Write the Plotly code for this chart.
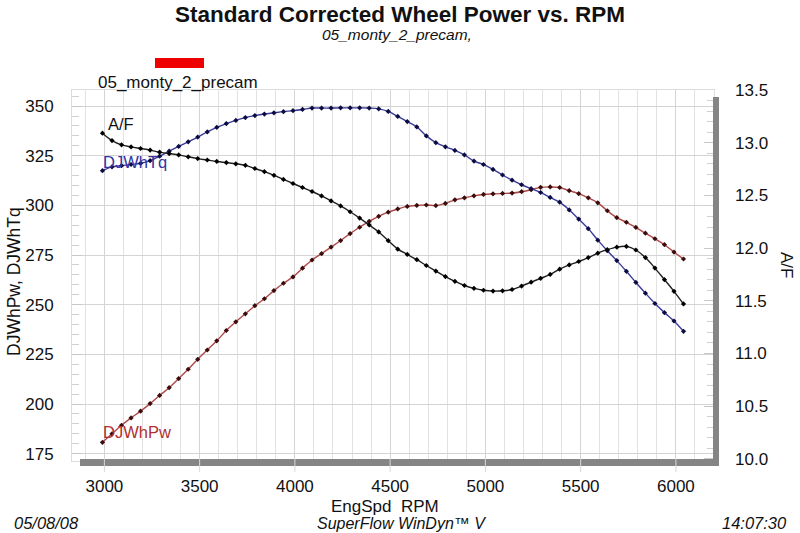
import plotly.graph_objects as go

rpm = [2990, 3040, 3090, 3140, 3190, 3240, 3290, 3340, 3390, 3440,
       3490, 3540, 3590, 3640, 3690, 3740, 3790, 3840, 3890, 3940,
       3990, 4040, 4090, 4140, 4190, 4240, 4290, 4340, 4390, 4440,
       4490, 4540, 4590, 4640, 4690, 4740, 4790, 4840, 4890, 4940,
       4990, 5040, 5090, 5140, 5190, 5240, 5290, 5340, 5390, 5440,
       5490, 5540, 5590, 5640, 5690, 5740, 5790, 5840, 5890, 5940,
       5990, 6040]

torque = [317.5, 319.4, 320.0, 320.6, 321.2, 322.5, 324.8, 327.3, 329.7, 332.0,
          334.4, 337.0, 339.3, 341.2, 342.8, 344.2, 345.2, 346.0, 346.6, 347.2,
          347.7, 348.3, 349.0, 349.0, 349.0, 349.1, 349.1, 349.1, 349.0, 348.6,
          347.3, 344.8, 342.2, 339.5, 335.0, 331.6, 329.5, 327.7, 325.4, 322.3,
          320.6, 318.1, 315.3, 312.7, 310.4, 308.4, 306.5, 304.0, 301.6, 297.7,
          293.1, 288.3, 282.5, 277.2, 272.2, 266.8, 261.2, 255.8, 250.6, 246.0,
          241.8, 236.6]

power = [180.7, 185.0, 189.3, 193.0, 196.4, 200.2, 204.3, 208.2, 212.8, 217.5,
         222.5, 227.2, 231.8, 237.0, 241.4, 245.4, 249.5, 253.0, 257.1, 260.8,
         264.0, 268.4, 272.5, 275.7, 279.0, 282.3, 285.8, 289.0, 292.0, 294.5,
         296.6, 298.2, 299.5, 300.0, 300.2, 299.9, 301.0, 302.8, 303.8, 304.8,
         305.5, 305.8, 306.0, 306.2, 306.9, 307.9, 309.1, 309.3, 309.0, 307.4,
         305.9, 303.8, 301.3, 297.3, 293.8, 291.5, 288.9, 286.0, 283.2, 280.2,
         276.5, 273.0]

afr = [13.09, 13.02, 12.98, 12.96, 12.945, 12.93, 12.91, 12.897, 12.884, 12.866,
       12.849, 12.836, 12.822, 12.811, 12.80, 12.785, 12.755, 12.725, 12.69, 12.652,
       12.613, 12.575, 12.537, 12.495, 12.448, 12.40, 12.345, 12.285, 12.22, 12.153,
       12.07, 11.99, 11.94, 11.89, 11.835, 11.782, 11.73, 11.685, 11.645, 11.618,
       11.60, 11.592, 11.595, 11.607, 11.64, 11.677, 11.713, 11.75, 11.80, 11.84,
       11.873, 11.91, 11.952, 11.985, 12.009, 12.016, 11.982, 11.91, 11.81, 11.70,
       11.59, 11.47]

x_ticks = [3000, 3500, 4000, 4500, 5000, 5500, 6000]
left_ticks = [175, 200, 225, 250, 275, 300, 325, 350]
right_ticks = [10.0, 10.5, 11.0, 11.5, 12.0, 12.5, 13.0, 13.5]
right_tick_text = ["10.0", "10.5", "11.0", "11.5", "12.0", "12.5", "13.0", "13.5"]

FONT = "Arial, Liberation Sans, sans-serif"

fig = go.Figure()
fig.add_trace(go.Scatter(x=rpm, y=power, mode="lines+markers", name="DJWhPw",
                         line=dict(color="#b04848", width=1.4, shape="spline"),
                         marker=dict(color="#3a0c0c", size=4, symbol="diamond"),
                         yaxis="y"))
fig.add_trace(go.Scatter(x=rpm, y=torque, mode="lines+markers", name="DJWhTq",
                         line=dict(color="#3a3a9a", width=1.4, shape="spline"),
                         marker=dict(color="#0c0c40", size=4, symbol="diamond"),
                         yaxis="y"))
fig.add_trace(go.Scatter(x=rpm, y=afr, mode="lines+markers", name="A/F",
                         line=dict(color="#202020", width=1.4, shape="spline"),
                         marker=dict(color="#000000", size=4, symbol="diamond"),
                         yaxis="y2"))

# plot area in pixels: x 72..714, y 90..461
W, H = 800, 533
L, R, T, B = 72, 86, 90, 72
pw = W - L - R
ph = H - T - B

def px_x(p):
    return (p - L) / pw

def px_y(p):
    return (H - B - p) / ph

annotations = [
    dict(text="<b>Standard Corrected Wheel Power vs. RPM</b>", x=400, y=15, size=22.5),
    dict(text="<i>05_monty_2_precam,</i>", x=397, y=35, size=15.5),
    dict(text="05_monty_2_precam", x=178, y=82, size=17),
    dict(text="EngSpd  RPM", x=385, y=506, size=17),
    dict(text="<i>05/08/08</i>", x=46, y=523, size=16.5),
    dict(text="<i>SuperFlow WinDyn™ V</i>", x=401, y=523, size=16),
    dict(text="<i>14:07:30</i>", x=754, y=523, size=16.5),
    dict(text="DJWhPw, DJWhTq", x=14, y=282, size=17.5, angle=-90),
    dict(text="A/F", x=787, y=265, size=17, angle=90),
]
ann_objs = []
for a in annotations:
    d = dict(xref="paper", yref="paper", x=px_x(a["x"]), y=px_y(a["y"]),
             xanchor="center", yanchor="middle", showarrow=False, text=a["text"],
             font=dict(family=FONT, color="#111111", size=a["size"]))
    if "angle" in a:
        d["textangle"] = a["angle"]
    ann_objs.append(d)

# in-plot series labels
for txt, xx, yy, col in [("A/F", 106, 124, "#111111"),
                         ("DJWhTq", 101, 162, "#3434a4"),
                         ("DJWhPw", 101, 432, "#b03030")]:
    ann_objs.append(dict(xref="paper", yref="paper", x=px_x(xx), y=px_y(yy), xanchor="left",
                         yanchor="middle", showarrow=False, text=txt,
                         font=dict(family=FONT, size=16.5, color=col)))

shapes = [
    # legend red swatch
    dict(type="rect", xref="paper", yref="paper", x0=px_x(155), x1=px_x(204),
         y0=px_y(68), y1=px_y(58), fillcolor="#ee0000", line=dict(width=0)),
    # right gray bar
    dict(type="rect", xref="paper", yref="paper", x0=px_x(713), x1=px_x(719),
         y0=px_y(466), y1=px_y(97), fillcolor="#858585", line=dict(width=0)),
    # bottom gray bar
    dict(type="rect", xref="paper", yref="paper", x0=px_x(80), x1=px_x(719),
         y0=px_y(466), y1=px_y(459), fillcolor="#858585", line=dict(width=0)),
]
# light marks across the bottom bar at the major ticks
for t in x_ticks:
    shapes.append(dict(type="line", xref="x", yref="paper", x0=t, x1=t,
                       y0=px_y(472), y1=px_y(459), line=dict(color="#d8d8d8", width=1)))

fig.update_layout(
    width=W, height=H,
    margin=dict(l=L, r=R, t=T, b=B, pad=0),
    paper_bgcolor="white", plot_bgcolor="white",
    showlegend=False,
    font=dict(family=FONT, size=17, color="#111111"),
    annotations=ann_objs,
    shapes=shapes,
    xaxis=dict(range=[2830, 6200], tickvals=x_ticks, ticktext=[str(v) for v in x_ticks],
               showgrid=True, gridcolor="#d4d4d4", gridwidth=1,
               minor=dict(dtick=100, tick0=3000, showgrid=True, gridcolor="#e2e2e2", gridwidth=1),
               ticks="", showline=True, linecolor="#dcdcdc", mirror=True,
               zeroline=False, ticklabelstandoff=10,
               tickfont=dict(size=17, family=FONT, color="#111111")),
    yaxis=dict(range=[171.3, 358.1], tickvals=left_ticks,
               showgrid=True, gridcolor="#d4d4d4", gridwidth=1,
               ticks="inside", ticklen=10, tickcolor="#c8c8c8",
               minor=dict(dtick=5, tick0=175, ticks="inside", ticklen=7, tickcolor="#d0d0d0", showgrid=False),
               showline=True, linecolor="#dcdcdc", mirror=True, zeroline=False,
               ticklabelstandoff=14,
               tickfont=dict(size=17, family=FONT, color="#111111")),
    yaxis2=dict(range=[9.98, 13.5], overlaying="y", side="right", tickvals=right_ticks,
                ticktext=right_tick_text, showgrid=False, zeroline=False,
                ticks="inside", ticklen=10, tickcolor="#c8c8c8",
                minor=dict(dtick=0.1, tick0=10.0, ticks="inside", ticklen=7, tickcolor="#d0d0d0"),
                ticklabelstandoff=20,
                tickfont=dict(size=17, family=FONT, color="#111111")),
)

fig.write_html("out.html")
